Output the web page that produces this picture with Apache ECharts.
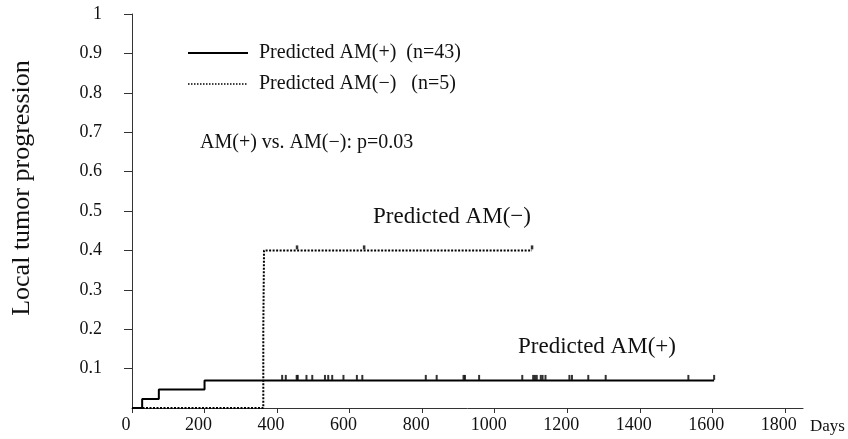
<!DOCTYPE html>
<html>
<head>
<meta charset="utf-8">
<script src="https://cdn.jsdelivr.net/npm/echarts@6/dist/echarts.min.js"></script>
<style>
  html, body { margin: 0; padding: 0; background: #fff; }
  #chart { width: 848px; height: 439px; }
</style>
</head>
<body>
<div id="chart"></div>
<script>
// Kaplan-Meier style curves (days, cumulative progression)
const amPlusDays = [0, 28, 74, 200, 1605];
const amPlusRisk = [0, 0.023, 0.047, 0.07, 0.07];
const amPlusCensored = [414, 424, 454, 457, 481, 497, 532, 541, 552, 583, 620, 635,
    810, 840, 914, 918, 957, 1076, 1106, 1111, 1116, 1127, 1132, 1140, 1206, 1213,
    1258, 1306, 1534, 1605];

const amMinusDays = [0, 362, 364, 1103];
const amMinusRisk = [0, 0.2, 0.4, 0.4];
const amMinusCensored = [455, 640, 1103];

const yTicks = [0.1, 0.2, 0.3, 0.4, 0.5, 0.6, 0.7, 0.8, 0.9, 1];

const serif = 'Liberation Serif';

const chart = echarts.init(document.getElementById('chart'));

function pairs(xs, ys) {
    return xs.map((x, i) => [x, ys[i]]);
}

const option = {
    animation: false,
    textStyle: { fontFamily: serif, color: '#111' },
    grid: { left: 132, right: 45, top: 14, bottom: 31 },
    xAxis: {
        type: 'value',
        min: 0,
        max: 1850,
        interval: 200,
        splitLine: { show: false },
        axisLine: { lineStyle: { color: '#333', width: 1 } },
        axisTick: { length: 5, lineStyle: { color: '#333' } },
        axisLabel: {
            showMaxLabel: false,
            margin: 8,
            fontSize: 18,
            fontFamily: serif,
            color: '#111',
            padding: [0, 12, 0, 0],
            formatter: v => String(v)
        }
    },
    yAxis: {
        type: 'value',
        min: 0,
        max: 1,
        interval: 0.1,
        splitLine: { show: false },
        axisLine: { show: true, lineStyle: { color: '#333', width: 1 } },
        axisTick: { show: true, length: 8, lineStyle: { color: '#333' } },
        axisLabel: {
            showMinLabel: false,
            margin: 30,
            fontSize: 18,
            fontFamily: serif,
            color: '#111',
            formatter: v => yTicks.includes(+v.toFixed(1)) ? String(+v.toFixed(1)) : ''
        }
    },
    series: [
        {
            name: 'Predicted AM(+)',
            type: 'line',
            step: 'end',
            symbol: 'none',
            data: pairs(amPlusDays, amPlusRisk),
            lineStyle: { color: '#000', width: 2 },
            z: 3
        },
        {
            name: 'AM(+) censored',
            type: 'scatter',
            symbol: 'rect',
            symbolSize: [2, 5],
            symbolOffset: [0, -3],
            data: amPlusCensored.map(d => [d, 0.07]),
            itemStyle: { color: '#000' },
            z: 3
        },
        {
            name: 'Predicted AM(−)',
            type: 'line',
            step: 'end',
            symbol: 'none',
            data: pairs(amMinusDays, amMinusRisk),
            lineStyle: { color: '#000', width: 2, type: [2, 1.5] },
            z: 4
        },
        {
            name: 'AM(−) censored',
            type: 'scatter',
            symbol: 'rect',
            symbolSize: [2.5, 4],
            symbolOffset: [0, -3],
            data: amMinusCensored.map(d => [d, 0.4]),
            itemStyle: { color: '#000' },
            z: 4
        }
    ],
    graphic: [
        {
            type: 'text',
            x: 22,
            y: 188,
            rotation: Math.PI / 2,
            style: {
                text: 'Local tumor progression',
                font: '26px "Liberation Serif"',
                fill: '#111',
                align: 'center',
                verticalAlign: 'middle'
            }
        },
        {
            type: 'line',
            shape: { x1: 188, y1: 53, x2: 248, y2: 53 },
            style: { stroke: '#000', lineWidth: 2 }
        },
        {
            type: 'text',
            x: 259,
            y: 53,
            style: {
                text: 'Predicted AM(+)  (n=43)',
                font: '20px "Liberation Serif"',
                fill: '#111',
                verticalAlign: 'middle'
            }
        },
        {
            type: 'line',
            shape: { x1: 188, y1: 84, x2: 248, y2: 84 },
            style: { stroke: '#000', lineWidth: 1.5, lineDash: [1.5, 1.5] }
        },
        {
            type: 'text',
            x: 259,
            y: 84,
            style: {
                text: 'Predicted AM(−)   (n=5)',
                font: '20px "Liberation Serif"',
                fill: '#111',
                verticalAlign: 'middle'
            }
        },
        {
            type: 'text',
            x: 200,
            y: 143,
            style: {
                text: 'AM(+) vs. AM(−): p=0.03',
                font: '20px "Liberation Serif"',
                fill: '#111',
                verticalAlign: 'middle'
            }
        },
        {
            type: 'text',
            x: 373,
            y: 217,
            style: {
                text: 'Predicted AM(−)',
                font: '23px "Liberation Serif"',
                fill: '#111',
                verticalAlign: 'middle'
            }
        },
        {
            type: 'text',
            x: 518,
            y: 347,
            style: {
                text: 'Predicted AM(+)',
                font: '23px "Liberation Serif"',
                fill: '#111',
                verticalAlign: 'middle'
            }
        },
        {
            type: 'text',
            x: 810,
            y: 427,
            style: {
                text: 'Days',
                font: '17px "Liberation Serif"',
                fill: '#111',
                verticalAlign: 'middle'
            }
        }
    ]
};

chart.setOption(option);
</script>
</body>
</html>
